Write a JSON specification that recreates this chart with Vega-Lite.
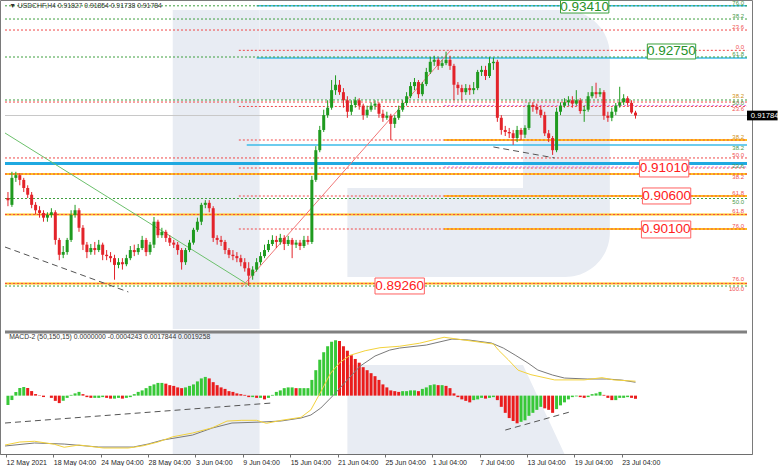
{
"$schema":"https://vega.github.io/schema/vega-lite/v6.json",
"width":752,"height":454,
"autosize":{"type":"none"},
"padding":{"left":0,"top":0,"right":30,"bottom":12},
"background":"#ffffff",
"datasets":{
"cdl":[
{"k":0,"o":0.9056,"h":0.9065,"l":0.9044,"c":0.9053},{"k":1,"o":0.9046,"h":0.9095,"l":0.9043,"c":0.9086},{"k":2,"o":0.9086,"h":0.9095,"l":0.9080,"c":0.9090},{"k":3,"o":0.9090,"h":0.9093,"l":0.9075,"c":0.9083},{"k":4,"o":0.9083,"h":0.9086,"l":0.9065,"c":0.9071},{"k":5,"o":0.9071,"h":0.9075,"l":0.9056,"c":0.9061},{"k":6,"o":0.9061,"h":0.9065,"l":0.9041,"c":0.9046},{"k":7,"o":0.9046,"h":0.9050,"l":0.9032,"c":0.9038},{"k":8,"o":0.9038,"h":0.9044,"l":0.9027,"c":0.9034},{"k":9,"o":0.9034,"h":0.9038,"l":0.9021,"c":0.9027},
{"k":10,"o":0.9027,"h":0.9035,"l":0.9021,"c":0.9031},{"k":11,"o":0.9031,"h":0.9041,"l":0.9027,"c":0.9035},{"k":12,"o":0.9035,"h":0.9038,"l":0.8987,"c":0.8994},{"k":13,"o":0.8994,"h":0.8997,"l":0.8964,"c":0.8972},{"k":14,"o":0.8972,"h":0.8985,"l":0.8967,"c":0.8976},{"k":15,"o":0.8976,"h":0.8997,"l":0.8972,"c":0.8994},{"k":16,"o":0.8994,"h":0.9038,"l":0.8991,"c":0.9031},{"k":17,"o":0.9031,"h":0.9046,"l":0.9027,"c":0.9038},{"k":18,"o":0.9038,"h":0.9041,"l":0.9006,"c":0.9012},{"k":19,"o":0.9012,"h":0.9016,"l":0.8979,"c":0.8987},
{"k":20,"o":0.8987,"h":0.8991,"l":0.8967,"c":0.8976},{"k":21,"o":0.8976,"h":0.8988,"l":0.8972,"c":0.8982},{"k":22,"o":0.8982,"h":0.8991,"l":0.8972,"c":0.8979},{"k":23,"o":0.8979,"h":0.8994,"l":0.8976,"c":0.8987},{"k":24,"o":0.8987,"h":0.8990,"l":0.8964,"c":0.8972},{"k":25,"o":0.8972,"h":0.8979,"l":0.8964,"c":0.8970},{"k":26,"o":0.8970,"h":0.8976,"l":0.8961,"c":0.8967},{"k":27,"o":0.8967,"h":0.8972,"l":0.8935,"c":0.8957},{"k":28,"o":0.8957,"h":0.8967,"l":0.8952,"c":0.8961},{"k":29,"o":0.8961,"h":0.8967,"l":0.8950,"c":0.8958},
{"k":30,"o":0.8958,"h":0.8972,"l":0.8955,"c":0.8967},{"k":31,"o":0.8967,"h":0.8985,"l":0.8964,"c":0.8979},{"k":32,"o":0.8979,"h":0.8987,"l":0.8970,"c":0.8976},{"k":33,"o":0.8976,"h":0.8988,"l":0.8972,"c":0.8982},{"k":34,"o":0.8982,"h":0.9000,"l":0.8979,"c":0.8994},{"k":35,"o":0.8994,"h":0.8997,"l":0.8970,"c":0.8976},{"k":36,"o":0.8976,"h":0.8991,"l":0.8972,"c":0.8987},{"k":37,"o":0.8987,"h":0.9028,"l":0.8982,"c":0.9021},{"k":38,"o":0.9021,"h":0.9024,"l":0.8997,"c":0.9001},{"k":39,"o":0.9001,"h":0.9012,"l":0.8997,"c":0.9006},
{"k":40,"o":0.9006,"h":0.9009,"l":0.8991,"c":0.8997},{"k":41,"o":0.8997,"h":0.9001,"l":0.8985,"c":0.8990},{"k":42,"o":0.8990,"h":0.8994,"l":0.8982,"c":0.8987},{"k":43,"o":0.8987,"h":0.8991,"l":0.8972,"c":0.8979},{"k":44,"o":0.8979,"h":0.8982,"l":0.8950,"c":0.8961},{"k":45,"o":0.8961,"h":0.8982,"l":0.8957,"c":0.8979},{"k":46,"o":0.8979,"h":0.8994,"l":0.8976,"c":0.8990},{"k":47,"o":0.8990,"h":0.9012,"l":0.8987,"c":0.9009},{"k":48,"o":0.9009,"h":0.9027,"l":0.9006,"c":0.9021},{"k":49,"o":0.9021,"h":0.9049,"l":0.9016,"c":0.9046},
{"k":50,"o":0.9046,"h":0.9053,"l":0.9041,"c":0.9049},{"k":51,"o":0.9049,"h":0.9053,"l":0.9035,"c":0.9041},{"k":52,"o":0.9041,"h":0.9044,"l":0.8991,"c":0.8997},{"k":53,"o":0.8997,"h":0.9001,"l":0.8987,"c":0.8994},{"k":54,"o":0.8994,"h":0.9000,"l":0.8985,"c":0.8991},{"k":55,"o":0.8991,"h":0.8994,"l":0.8973,"c":0.8979},{"k":56,"o":0.8979,"h":0.8982,"l":0.8967,"c":0.8972},{"k":57,"o":0.8972,"h":0.8979,"l":0.8964,"c":0.8970},{"k":58,"o":0.8970,"h":0.8976,"l":0.8961,"c":0.8967},{"k":59,"o":0.8967,"h":0.8972,"l":0.8955,"c":0.8961},
{"k":60,"o":0.8961,"h":0.8967,"l":0.8947,"c":0.8952},{"k":61,"o":0.8952,"h":0.8961,"l":0.8926,"c":0.8941},{"k":62,"o":0.8941,"h":0.8955,"l":0.8935,"c":0.8950},{"k":63,"o":0.8950,"h":0.8967,"l":0.8947,"c":0.8961},{"k":64,"o":0.8961,"h":0.8976,"l":0.8957,"c":0.8970},{"k":65,"o":0.8970,"h":0.8987,"l":0.8967,"c":0.8979},{"k":66,"o":0.8979,"h":0.8994,"l":0.8976,"c":0.8988},{"k":67,"o":0.8988,"h":0.9001,"l":0.8985,"c":0.8994},{"k":68,"o":0.8994,"h":0.9000,"l":0.8982,"c":0.8991},{"k":69,"o":0.8991,"h":0.9003,"l":0.8987,"c":0.8997},
{"k":70,"o":0.8997,"h":0.9001,"l":0.8979,"c":0.8988},{"k":71,"o":0.8988,"h":0.9000,"l":0.8985,"c":0.8994},{"k":72,"o":0.8994,"h":0.8997,"l":0.8967,"c":0.8987},{"k":73,"o":0.8987,"h":0.8994,"l":0.8982,"c":0.8990},{"k":74,"o":0.8990,"h":0.8994,"l":0.8979,"c":0.8985},{"k":75,"o":0.8985,"h":0.9000,"l":0.8982,"c":0.8994},{"k":76,"o":0.8994,"h":0.9000,"l":0.8987,"c":0.8991},{"k":77,"o":0.8991,"h":0.9089,"l":0.8988,"c":0.9083},{"k":78,"o":0.9083,"h":0.9133,"l":0.9080,"c":0.9127},{"k":79,"o":0.9127,"h":0.9163,"l":0.9124,"c":0.9157},
{"k":80,"o":0.9157,"h":0.9187,"l":0.9154,"c":0.9179},{"k":81,"o":0.9179,"h":0.9201,"l":0.9175,"c":0.9190},{"k":82,"o":0.9190,"h":0.9231,"l":0.9187,"c":0.9216},{"k":83,"o":0.9216,"h":0.9238,"l":0.9209,"c":0.9224},{"k":84,"o":0.9224,"h":0.9231,"l":0.9209,"c":0.9213},{"k":85,"o":0.9213,"h":0.9219,"l":0.9190,"c":0.9201},{"k":86,"o":0.9201,"h":0.9207,"l":0.9175,"c":0.9184},{"k":87,"o":0.9184,"h":0.9201,"l":0.9179,"c":0.9194},{"k":88,"o":0.9194,"h":0.9206,"l":0.9190,"c":0.9201},{"k":89,"o":0.9201,"h":0.9204,"l":0.9187,"c":0.9193},
{"k":90,"o":0.9193,"h":0.9196,"l":0.9172,"c":0.9179},{"k":91,"o":0.9179,"h":0.9193,"l":0.9175,"c":0.9187},{"k":92,"o":0.9187,"h":0.9198,"l":0.9184,"c":0.9193},{"k":93,"o":0.9193,"h":0.9201,"l":0.9187,"c":0.9196},{"k":94,"o":0.9196,"h":0.9198,"l":0.9175,"c":0.9181},{"k":95,"o":0.9181,"h":0.9187,"l":0.9169,"c":0.9175},{"k":96,"o":0.9175,"h":0.9184,"l":0.9172,"c":0.9178},{"k":97,"o":0.9178,"h":0.9181,"l":0.9142,"c":0.9166},{"k":98,"o":0.9166,"h":0.9179,"l":0.9160,"c":0.9175},{"k":99,"o":0.9175,"h":0.9193,"l":0.9172,"c":0.9187},
{"k":100,"o":0.9187,"h":0.9201,"l":0.9184,"c":0.9197},{"k":101,"o":0.9197,"h":0.9213,"l":0.9193,"c":0.9207},{"k":102,"o":0.9207,"h":0.9228,"l":0.9204,"c":0.9222},{"k":103,"o":0.9222,"h":0.9234,"l":0.9216,"c":0.9228},{"k":104,"o":0.9228,"h":0.9231,"l":0.9204,"c":0.9210},{"k":105,"o":0.9210,"h":0.9228,"l":0.9207,"c":0.9225},{"k":106,"o":0.9225,"h":0.9249,"l":0.9222,"c":0.9243},{"k":107,"o":0.9243,"h":0.9265,"l":0.9240,"c":0.9258},{"k":108,"o":0.9258,"h":0.9267,"l":0.9252,"c":0.9261},{"k":109,"o":0.9261,"h":0.9264,"l":0.9246,"c":0.9252},
{"k":110,"o":0.9252,"h":0.9261,"l":0.9249,"c":0.9256},{"k":111,"o":0.9256,"h":0.9273,"l":0.9253,"c":0.9261},{"k":112,"o":0.9261,"h":0.9267,"l":0.9246,"c":0.9252},{"k":113,"o":0.9252,"h":0.9255,"l":0.9201,"c":0.9224},{"k":114,"o":0.9224,"h":0.9228,"l":0.9209,"c":0.9219},{"k":115,"o":0.9219,"h":0.9224,"l":0.9201,"c":0.9213},{"k":116,"o":0.9213,"h":0.9225,"l":0.9209,"c":0.9219},{"k":117,"o":0.9219,"h":0.9224,"l":0.9209,"c":0.9216},{"k":118,"o":0.9216,"h":0.9228,"l":0.9210,"c":0.9219},{"k":119,"o":0.9219,"h":0.9246,"l":0.9216,"c":0.9243},
{"k":120,"o":0.9243,"h":0.9252,"l":0.9237,"c":0.9246},{"k":121,"o":0.9246,"h":0.9252,"l":0.9231,"c":0.9237},{"k":122,"o":0.9237,"h":0.9265,"l":0.9234,"c":0.9256},{"k":123,"o":0.9256,"h":0.9264,"l":0.9246,"c":0.9258},{"k":124,"o":0.9258,"h":0.9261,"l":0.9169,"c":0.9175},{"k":125,"o":0.9175,"h":0.9179,"l":0.9150,"c":0.9157},{"k":126,"o":0.9157,"h":0.9163,"l":0.9148,"c":0.9154},{"k":127,"o":0.9154,"h":0.9160,"l":0.9145,"c":0.9152},{"k":128,"o":0.9152,"h":0.9157,"l":0.9135,"c":0.9145},{"k":129,"o":0.9145,"h":0.9163,"l":0.9139,"c":0.9157},
{"k":130,"o":0.9157,"h":0.9160,"l":0.9142,"c":0.9150},{"k":131,"o":0.9150,"h":0.9164,"l":0.9145,"c":0.9160},{"k":132,"o":0.9160,"h":0.9198,"l":0.9157,"c":0.9194},{"k":133,"o":0.9194,"h":0.9198,"l":0.9184,"c":0.9191},{"k":134,"o":0.9191,"h":0.9196,"l":0.9181,"c":0.9187},{"k":135,"o":0.9187,"h":0.9193,"l":0.9175,"c":0.9179},{"k":136,"o":0.9179,"h":0.9184,"l":0.9148,"c":0.9152},{"k":137,"o":0.9152,"h":0.9157,"l":0.9139,"c":0.9145},{"k":138,"o":0.9145,"h":0.9148,"l":0.9120,"c":0.9127},{"k":139,"o":0.9127,"h":0.9190,"l":0.9124,"c":0.9184},
{"k":140,"o":0.9184,"h":0.9198,"l":0.9179,"c":0.9193},{"k":141,"o":0.9193,"h":0.9204,"l":0.9190,"c":0.9198},{"k":142,"o":0.9198,"h":0.9207,"l":0.9193,"c":0.9201},{"k":143,"o":0.9201,"h":0.9207,"l":0.9190,"c":0.9196},{"k":144,"o":0.9196,"h":0.9216,"l":0.9193,"c":0.9201},{"k":145,"o":0.9201,"h":0.9204,"l":0.9181,"c":0.9185},{"k":146,"o":0.9185,"h":0.9193,"l":0.9169,"c":0.9187},{"k":147,"o":0.9187,"h":0.9213,"l":0.9184,"c":0.9207},{"k":148,"o":0.9207,"h":0.9222,"l":0.9204,"c":0.9213},{"k":149,"o":0.9213,"h":0.9227,"l":0.9204,"c":0.9210},
{"k":150,"o":0.9210,"h":0.9219,"l":0.9206,"c":0.9213},{"k":151,"o":0.9213,"h":0.9216,"l":0.9172,"c":0.9178},{"k":152,"o":0.9178,"h":0.9184,"l":0.9169,"c":0.9175},{"k":153,"o":0.9175,"h":0.9190,"l":0.9170,"c":0.9184},{"k":154,"o":0.9184,"h":0.9197,"l":0.9179,"c":0.9193},{"k":155,"o":0.9193,"h":0.9221,"l":0.9190,"c":0.9198},{"k":156,"o":0.9198,"h":0.9210,"l":0.9194,"c":0.9204},{"k":157,"o":0.9204,"h":0.9207,"l":0.9193,"c":0.9197},{"k":158,"o":0.9197,"h":0.9201,"l":0.9181,"c":0.9183},{"k":159,"o":0.91827,"h":0.91854,"l":0.91738,"c":0.91784}
],
"hist":[
{"k":0,"h":-0.00126},{"k":1,"h":-0.00059},{"k":2,"h":0.00048},{"k":3,"h":0.00102},{"k":4,"h":0.00115},{"k":5,"h":0.00102},{"k":6,"h":0.00061},{"k":7,"h":0.00021},{"k":8,"h":-0.00005},{"k":9,"h":-0.00019},
{"k":10,"h":0.0},{"k":11,"h":-0.0003},{"k":12,"h":-0.0007},{"k":13,"h":-0.001},{"k":14,"h":-0.0007},{"k":15,"h":-0.0003},{"k":16,"h":0.0001},{"k":17,"h":0.0003},{"k":18,"h":0.0005},{"k":19,"h":0.0002},
{"k":20,"h":-0.0002},{"k":21,"h":-0.0003},{"k":22,"h":-0.0003},{"k":23,"h":-0.0003},{"k":24,"h":-0.0002},{"k":25,"h":-0.0003},{"k":26,"h":-0.0004},{"k":27,"h":-0.0004},{"k":28,"h":-0.0003},{"k":29,"h":-0.0004},
{"k":30,"h":-0.0003},{"k":31,"h":-0.0002},{"k":32,"h":0.0002},{"k":33,"h":0.0005},{"k":34,"h":0.0007},{"k":35,"h":0.001},{"k":36,"h":0.0013},{"k":37,"h":0.0015},{"k":38,"h":0.0017},{"k":39,"h":0.0017},
{"k":40,"h":0.0016},{"k":41,"h":0.0014},{"k":42,"h":0.0013},{"k":43,"h":0.0011},{"k":44,"h":0.001},{"k":45,"h":0.0011},{"k":46,"h":0.0013},{"k":47,"h":0.0015},{"k":48,"h":0.0019},{"k":49,"h":0.0023},
{"k":50,"h":0.0025},{"k":51,"h":0.0023},{"k":52,"h":0.0018},{"k":53,"h":0.0014},{"k":54,"h":0.0011},{"k":55,"h":0.0009},{"k":56,"h":0.0006},{"k":57,"h":0.0005},{"k":58,"h":0.0003},{"k":59,"h":0.0002},
{"k":60,"h":0.0001},{"k":61,"h":-0.0002},{"k":62,"h":-0.0002},{"k":63,"h":-0.0003},{"k":64,"h":-0.0003},{"k":65,"h":-0.0005},{"k":66,"h":-0.0003},{"k":67,"h":0.0001},{"k":68,"h":0.0005},{"k":69,"h":0.0007},
{"k":70,"h":0.001},{"k":71,"h":0.0011},{"k":72,"h":0.0011},{"k":73,"h":0.001},{"k":74,"h":0.001},{"k":75,"h":0.001},{"k":76,"h":0.001},{"k":77,"h":0.0021},{"k":78,"h":0.0034},{"k":79,"h":0.0048},
{"k":80,"h":0.0058},{"k":81,"h":0.0066},{"k":82,"h":0.0072},{"k":83,"h":0.0074},{"k":84,"h":0.0073},{"k":85,"h":0.0066},{"k":86,"h":0.006},{"k":87,"h":0.0054},{"k":88,"h":0.0049},{"k":89,"h":0.0044},
{"k":90,"h":0.0038},{"k":91,"h":0.0034},{"k":92,"h":0.003},{"k":93,"h":0.0026},{"k":94,"h":0.0021},{"k":95,"h":0.0015},{"k":96,"h":0.0011},{"k":97,"h":0.0007},{"k":98,"h":0.0006},{"k":99,"h":0.0005},
{"k":100,"h":0.0006},{"k":101,"h":0.0006},{"k":102,"h":0.0007},{"k":103,"h":0.0007},{"k":104,"h":0.0006},{"k":105,"h":0.0009},{"k":106,"h":0.0011},{"k":107,"h":0.0014},{"k":108,"h":0.0015},{"k":109,"h":0.0014},
{"k":110,"h":0.0014},{"k":111,"h":0.0013},{"k":112,"h":0.001},{"k":113,"h":0.0003},{"k":114,"h":-0.0002},{"k":115,"h":-0.0005},{"k":116,"h":-0.0007},{"k":117,"h":-0.0009},{"k":118,"h":-0.0006},{"k":119,"h":-0.0005},
{"k":120,"h":-0.0003},{"k":121,"h":-0.0004},{"k":122,"h":-0.0003},{"k":123,"h":-0.0002},{"k":124,"h":-0.0006},{"k":125,"h":-0.0015},{"k":126,"h":-0.0023},{"k":127,"h":-0.003},{"k":128,"h":-0.0034},{"k":129,"h":-0.0037},
{"k":130,"h":-0.0035},{"k":131,"h":-0.0033},{"k":132,"h":-0.0027},{"k":133,"h":-0.0023},{"k":134,"h":-0.0019},{"k":135,"h":-0.0015},{"k":136,"h":-0.0017},{"k":137,"h":-0.0019},{"k":138,"h":-0.0023},{"k":139,"h":-0.0018},
{"k":140,"h":-0.0013},{"k":141,"h":-0.0009},{"k":142,"h":-0.0005},{"k":143,"h":-0.0002},{"k":144,"h":-0.0001},{"k":145,"h":-0.0002},{"k":146,"h":-0.0003},{"k":147,"h":-0.0002},{"k":148,"h":0.0002},{"k":149,"h":0.0003},
{"k":150,"h":0.0005},{"k":151,"h":0.0001},{"k":152,"h":-0.0003},{"k":153,"h":-0.0006},{"k":154,"h":-0.0006},{"k":155,"h":-0.0003},{"k":156,"h":-0.0003},{"k":157,"h":-0.0002},{"k":158,"h":-0.0003},{"k":159,"h":-0.0004243}
],
"macd":[
{"k":-0.75,"m":-0.00673},{"k":6.75,"m":-0.00633},{"k":14.25,"m":-0.00647},{"k":23,"m":-0.00687},{"k":31.75,"m":-0.00687},{"k":35.5,"m":-0.00647},{"k":39.25,"m":-0.00593},{"k":46.75,"m":-0.00527},{"k":51.75,"m":-0.00433},{"k":56.75,"m":-0.00366},{"k":64.25,"m":-0.00353},{"k":69.25,"m":-0.00339},{"k":74.25,"m":-0.00299},{"k":76.75,"m":-0.00259},{"k":79.25,"m":-0.00166},{"k":82.5,"m":0.00008},{"k":85.5,"m":0.00182},{"k":89.25,"m":0.00395},{"k":93,"m":0.00529},{"k":96.75,"m":0.00609},{"k":99.25,"m":0.00636},{"k":106,"m":0.00676},{"k":112.5,"m":0.00756},{"k":116.75,"m":0.00743},{"k":122.5,"m":0.00703},{"k":125.5,"m":0.00636},{"k":128.5,"m":0.00542},{"k":131.75,"m":0.00436},{"k":134.25,"m":0.00342},{"k":138,"m":0.00275},{"k":141,"m":0.00235},{"k":146.75,"m":0.00222},{"k":151.75,"m":0.00222},{"k":155.5,"m":0.00208},{"k":159,"m":0.0017844}
],
"sig":[
{"k":-0.75,"s":-0.0066},{"k":3,"s":-0.0062},{"k":6.75,"s":-0.0061},{"k":11.75,"s":-0.0065},{"k":14.25,"s":-0.0069},{"k":18,"s":-0.0066},{"k":24.25,"s":-0.0070},{"k":30.5,"s":-0.0070},{"k":34.25,"s":-0.0067},{"k":38,"s":-0.0062},{"k":41.75,"s":-0.0055},{"k":46.75,"s":-0.0050},{"k":51.75,"s":-0.0043},{"k":55.5,"s":-0.0034},{"k":59.25,"s":-0.0033},{"k":63,"s":-0.0033},{"k":65.5,"s":-0.0037},{"k":69.25,"s":-0.0033},{"k":74.25,"s":-0.0029},{"k":76.75,"s":-0.0019},{"k":79.25,"s":0.0005},{"k":81.75,"s":0.0030},{"k":84.25,"s":0.0045},{"k":86.75,"s":0.0054},{"k":90.5,"s":0.0060},{"k":94.25,"s":0.0064},{"k":99.25,"s":0.0066},{"k":104.25,"s":0.0070},{"k":110.5,"s":0.0078},{"k":116,"s":0.0074},{"k":123,"s":0.0069},{"k":124.25,"s":0.0061},{"k":126.75,"s":0.0048},{"k":129.25,"s":0.0034},{"k":132.5,"s":0.0028},{"k":138.5,"s":0.0021},{"k":146,"s":0.0021},{"k":150.5,"s":0.0024},{"k":153.5,"s":0.0021},{"k":159,"s":0.0019258}
],
"wmA":[{"k":41.75,"k2":63.75,"p":0.93348,"p2":0.8862},{"k":130.5,"k2":152.5,"p":0.92014,"p2":0.9071}],
"wmB":[{"k":63.75,"k2":152.5,"p":0.93348,"p2":0.92014}],
"wmC":[{"k":86,"k2":152.5,"p":0.9071,"p2":0.89391}],
"wmM":[{"k":41.75,"k2":63.75,"m":0.0085025,"m2":-0.0078}],
"wmL":[{"k":86,"m":0.00409,"m2":-0.0078},{"k":130.5,"m":0.00409,"m2":-0.0078},{"k":141,"m":-0.0078,"m2":-0.0078}],
"lvG":[{"k":-0.75,"k2":187.25,"p":0.9341},{"k":-0.75,"k2":187.25,"p":0.93214},{"k":-0.75,"k2":187.25,"p":0.92651},{"k":-0.75,"k2":187.25,"p":0.92014},{"k":-0.75,"k2":187.25,"p":0.90554},{"k":-0.75,"k2":187.25,"p":0.89257}],
"lvR":[{"k":-0.75,"k2":187.25,"p":0.93051},{"k":58.5,"k2":187.25,"p":0.9275},{"k":-0.75,"k2":187.25,"p":0.91984},{"k":58.5,"k2":187.25,"p":0.91918},{"k":58.5,"k2":187.25,"p":0.91421},{"k":-0.75,"k2":187.25,"p":0.91155},{"k":58.5,"k2":187.25,"p":0.91006},{"k":-0.75,"k2":187.25,"p":0.90917},{"k":58.5,"k2":187.25,"p":0.90591},{"k":-0.75,"k2":187.25,"p":0.90317},{"k":58.5,"k2":187.25,"p":0.90102},{"k":-0.75,"k2":187.25,"p":0.89295}],
"lvO":[{"k":-0.75,"k2":187.25,"p":0.90917},{"k":-0.75,"k2":187.25,"p":0.90317},{"k":-0.75,"k2":187.25,"p":0.89295},{"k":110.5,"k2":187.25,"p":0.91421},{"k":110.5,"k2":187.25,"p":0.90591},{"k":110.5,"k2":187.25,"p":0.90102}],
"lvCt":[{"k":-0.75,"k2":187.25,"p":0.91073}],
"lvC":[{"k":63,"k2":187.25,"p":0.9341},{"k":63,"k2":187.25,"p":0.92636},{"k":60.5,"k2":187.25,"p":0.91347}],
"lvP":[{"k":110.5,"k2":187.25,"p":0.91933},{"k":110.5,"k2":187.25,"p":0.91021}],
"lvGr":[{"k":-0.75,"k2":187.25,"p":0.91784}],
"trG":[{"k":-0.75,"p":0.91525},{"k":61,"p":0.89272}],
"trR":[{"k":59.25,"p":0.89243},{"k":112.25,"p":0.92755}],
"trD":[{"k":-0.75,"p":0.89835,"g":1},{"k":30.5,"p":0.89169,"g":1},{"k":123,"p":0.91318,"g":2},{"k":138.5,"p":0.91155,"g":2}],
"mD":[{"k":-0.75,"m":-0.00366,"g":1},{"k":66.75,"m":-0.00099,"g":1},{"k":126,"m":-0.0046,"g":2},{"k":142.25,"m":-0.0022,"g":2}],
"sep":[{"k":-0.75,"k2":187.25,"m":0.0085025}],
"fbRb":[{"k":186.5,"p":0.93051,"t":"23.6"},{"k":186.5,"p":0.9275,"t":"0.0"},{"k":186.5,"p":0.91155,"t":"50.0"},{"k":186.5,"p":0.90591,"t":"61.8"},{"k":186.5,"p":0.90317,"t":"61.8"},{"k":186.5,"p":0.90102,"t":"76.0"},{"k":186.5,"p":0.8931,"t":"76.0"}],
"fbRt":[{"k":186.5,"p":0.91918,"t":"23.6"},{"k":186.5,"p":0.90917,"t":"38.2"},{"k":186.5,"p":0.89257,"t":"100.0"}],
"fbGb":[{"k":186.5,"p":0.9341,"t":"76.0"},{"k":186.5,"p":0.93214,"t":"38.2"},{"k":186.5,"p":0.92651,"t":"61.8"}],
"fbGt":[{"k":186.5,"p":0.92014,"t":"50.0"},{"k":186.5,"p":0.91347,"t":"38.2"},{"k":186.5,"p":0.91073,"t":"23.6"},{"k":186.5,"p":0.90554,"t":"50.0"}],
"fbO":[{"k":186.5,"p":0.9203,"t":"38.2"},{"k":186.5,"p":0.91421,"t":"38.2"}],
"bxG":[{"k":140,"k2":152.25,"p":0.9349,"p2":0.93303},{"k":162,"k2":174.25,"p":0.92844,"p2":0.92622}],
"bxGt":[{"k":146.1,"p":0.93398,"t":"0.93410"},{"k":168.1,"p":0.92733,"t":"0.92750"}],
"bxR":[{"k":160,"k2":172.5,"p":0.91125,"p2":0.90873},{"k":160.75,"k2":173,"p":0.9071,"p2":0.90473},{"k":160.5,"k2":173,"p":0.90221,"p2":0.89969},{"k":93,"k2":105.5,"p":0.89376,"p2":0.89139}],
"bxRt":[{"k":166.25,"p":0.90999,"t":"0.91010"},{"k":166.9,"p":0.90592,"t":"0.90600"},{"k":166.75,"p":0.90095,"t":"0.90100"},{"k":99.25,"p":0.89257,"t":"0.89260"}],
"tag":[{"k":187.25,"k2":195,"p":0.91856,"p2":0.91712}],
"tagt":[{"k":188.2,"p":0.91784,"t":"0.91784"}],
"tP":[{"k":0.3,"p":0.93405,"t":"▼ USDCHF,H4  0.91827 0.91854 0.91738 0.91784"}],
"tM":[{"k":0.3,"m":0.0078,"t":"MACD-2 (50,150,15) 0.0000000 -0.0004243 0.0017844 0.0019258"}]
},
"encoding":{
"x":{"field":"k","type":"quantitative","scale":{"domain":[-0.75,187.25],"nice":false,"zero":false},
"axis":{"orient":"bottom","title":null,"grid":false,"values":[-0.5,11.5,23.5,35.5,47.5,59.5,71.5,83.5,95.5,107.5,119.5,131.5,143.5,155.5],
"labelExpr":"['12 May 2021','18 May 04:00','24 May 04:00','28 May 04:00','3 Jun 04:00','9 Jun 04:00','15 Jun 04:00','21 Jun 04:00','25 Jun 04:00','1 Jul 04:00','7 Jul 04:00','13 Jul 04:00','19 Jul 04:00','23 Jul 04:00'][round((datum.value+0.5)/12)]",
"labelAlign":"left","labelFontSize":7,"labelPadding":1,"tickSize":3,"labelOverlap":false,"labelFlush":false}}
},
"layer":[
{"layer":[
{"data":{"name":"wmA"},"mark":{"type":"rect","color":"#e8ecf3"},"encoding":{"x2":{"field":"k2"},"y":{"field":"p","type":"quantitative","scale":{"domain":[0.8862,0.93496],"range":[329,0],"zero":false,"nice":false},"axis":null},"y2":{"field":"p2"}}},
{"data":{"name":"wmB"},"mark":{"type":"rect","color":"#e8ecf3","cornerRadiusTopRight":80},"encoding":{"x2":{"field":"k2"},"y":{"field":"p","type":"quantitative","scale":{"domain":[0.8862,0.93496],"range":[329,0],"zero":false,"nice":false},"axis":null},"y2":{"field":"p2"}}},
{"data":{"name":"wmC"},"mark":{"type":"rect","color":"#e8ecf3","cornerRadiusBottomRight":80},"encoding":{"x2":{"field":"k2"},"y":{"field":"p","type":"quantitative","scale":{"domain":[0.8862,0.93496],"range":[329,0],"zero":false,"nice":false},"axis":null},"y2":{"field":"p2"}}},
{"data":{"name":"lvGr"},"mark":{"type":"rule","color":"#c8c8c8","strokeWidth":1},"encoding":{"x2":{"field":"k2"},"y":{"field":"p","type":"quantitative","scale":{"domain":[0.8862,0.93496],"range":[329,0],"zero":false,"nice":false},"axis":null}}},
{"data":{"name":"lvO"},"mark":{"type":"rule","color":"#ffc21f","strokeWidth":2},"encoding":{"x2":{"field":"k2"},"y":{"field":"p","type":"quantitative","scale":{"domain":[0.8862,0.93496],"range":[329,0],"zero":false,"nice":false},"axis":null}}},
{"data":{"name":"lvCt"},"mark":{"type":"rule","color":"#1fa9e1","strokeWidth":3},"encoding":{"x2":{"field":"k2"},"y":{"field":"p","type":"quantitative","scale":{"domain":[0.8862,0.93496],"range":[329,0],"zero":false,"nice":false},"axis":null}}},
{"data":{"name":"lvC"},"mark":{"type":"rule","color":"#3dbbe8","strokeWidth":1.5},"encoding":{"x2":{"field":"k2"},"y":{"field":"p","type":"quantitative","scale":{"domain":[0.8862,0.93496],"range":[329,0],"zero":false,"nice":false},"axis":null}}},
{"data":{"name":"lvG"},"mark":{"type":"rule","color":"#3f9f3f","strokeWidth":1,"strokeDash":[2,2]},"encoding":{"x2":{"field":"k2"},"y":{"field":"p","type":"quantitative","scale":{"domain":[0.8862,0.93496],"range":[329,0],"zero":false,"nice":false},"axis":null}}},
{"data":{"name":"lvR"},"mark":{"type":"rule","color":"#f04848","strokeWidth":1,"strokeDash":[2,2]},"encoding":{"x2":{"field":"k2"},"y":{"field":"p","type":"quantitative","scale":{"domain":[0.8862,0.93496],"range":[329,0],"zero":false,"nice":false},"axis":null}}},
{"data":{"name":"lvP"},"mark":{"type":"rule","color":"#e07ae0","strokeWidth":1,"strokeDash":[2,2]},"encoding":{"x2":{"field":"k2"},"y":{"field":"p","type":"quantitative","scale":{"domain":[0.8862,0.93496],"range":[329,0],"zero":false,"nice":false},"axis":null}}},
{"data":{"name":"trG"},"mark":{"type":"line","color":"#6cc06c","strokeWidth":1},"encoding":{"y":{"field":"p","type":"quantitative","scale":{"domain":[0.8862,0.93496],"range":[329,0],"zero":false,"nice":false},"axis":null}}},
{"data":{"name":"trR"},"mark":{"type":"line","color":"#f07878","strokeWidth":1},"encoding":{"y":{"field":"p","type":"quantitative","scale":{"domain":[0.8862,0.93496],"range":[329,0],"zero":false,"nice":false},"axis":null}}},
{"data":{"name":"trD"},"mark":{"type":"line","color":"#555555","strokeWidth":1,"strokeDash":[6,4]},"encoding":{"detail":{"field":"g"},"y":{"field":"p","type":"quantitative","scale":{"domain":[0.8862,0.93496],"range":[329,0],"zero":false,"nice":false},"axis":null}}},
{"data":{"name":"cdl"},"mark":{"type":"rule","strokeWidth":1},"encoding":{
"y":{"field":"l","type":"quantitative","scale":{"domain":[0.8862,0.93496],"range":[329,0],"zero":false,"nice":false},
"axis":{"orient":"right","title":null,"grid":false,"values":[0.9347,0.93105,0.9274,0.9238,0.92015,0.9165,0.9129,0.90925,0.9056,0.902,0.89835,0.8947,0.8911,0.88745],"format":".5f","labelFontSize":7.7,"tickSize":3,"labelPadding":2,"labelOverlap":false,"labelFlush":false}},
"y2":{"field":"h"},
"color":{"condition":{"test":"datum.c >= datum.o","value":"#1f9a1f"},"value":"#e3232a"}}},
{"data":{"name":"cdl"},"mark":{"type":"bar","width":3},"encoding":{
"y":{"field":"o","type":"quantitative","scale":{"domain":[0.8862,0.93496],"range":[329,0],"zero":false,"nice":false},"axis":null},
"y2":{"field":"c"},
"color":{"condition":{"test":"datum.c >= datum.o","value":"#1f9a1f"},"value":"#e3232a"}}},
{"data":{"name":"bxG"},"mark":{"type":"rect","fill":"#ffffff","stroke":"#3aa03a","strokeWidth":1},"encoding":{"x2":{"field":"k2"},"y":{"field":"p","type":"quantitative","scale":{"domain":[0.8862,0.93496],"range":[329,0],"zero":false,"nice":false},"axis":null},"y2":{"field":"p2"}}},
{"data":{"name":"bxR"},"mark":{"type":"rect","fill":"#ffffff","stroke":"#ff6060","strokeWidth":1},"encoding":{"x2":{"field":"k2"},"y":{"field":"p","type":"quantitative","scale":{"domain":[0.8862,0.93496],"range":[329,0],"zero":false,"nice":false},"axis":null},"y2":{"field":"p2"}}},
{"data":{"name":"bxGt"},"mark":{"type":"text","font":"Liberation Sans","fontSize":13.5,"color":"#27922a","align":"center","baseline":"middle"},"encoding":{"text":{"field":"t"},"y":{"field":"p","type":"quantitative","scale":{"domain":[0.8862,0.93496],"range":[329,0],"zero":false,"nice":false},"axis":null}}},
{"data":{"name":"bxRt"},"mark":{"type":"text","font":"Liberation Sans","fontSize":13.5,"color":"#ff2020","align":"center","baseline":"middle"},"encoding":{"text":{"field":"t"},"y":{"field":"p","type":"quantitative","scale":{"domain":[0.8862,0.93496],"range":[329,0],"zero":false,"nice":false},"axis":null}}},
{"data":{"name":"fbRb"},"mark":{"type":"text","font":"Liberation Sans","fontSize":6,"color":"#f05050","align":"right","baseline":"bottom"},"encoding":{"text":{"field":"t"},"y":{"field":"p","type":"quantitative","scale":{"domain":[0.8862,0.93496],"range":[329,0],"zero":false,"nice":false},"axis":null}}},
{"data":{"name":"fbRt"},"mark":{"type":"text","font":"Liberation Sans","fontSize":6,"color":"#f05050","align":"right","baseline":"top"},"encoding":{"text":{"field":"t"},"y":{"field":"p","type":"quantitative","scale":{"domain":[0.8862,0.93496],"range":[329,0],"zero":false,"nice":false},"axis":null}}},
{"data":{"name":"fbGb"},"mark":{"type":"text","font":"Liberation Sans","fontSize":6,"color":"#4a9a4a","align":"right","baseline":"bottom"},"encoding":{"text":{"field":"t"},"y":{"field":"p","type":"quantitative","scale":{"domain":[0.8862,0.93496],"range":[329,0],"zero":false,"nice":false},"axis":null}}},
{"data":{"name":"fbGt"},"mark":{"type":"text","font":"Liberation Sans","fontSize":6,"color":"#4a9a4a","align":"right","baseline":"top"},"encoding":{"text":{"field":"t"},"y":{"field":"p","type":"quantitative","scale":{"domain":[0.8862,0.93496],"range":[329,0],"zero":false,"nice":false},"axis":null}}},
{"data":{"name":"fbO"},"mark":{"type":"text","font":"Liberation Sans","fontSize":6,"color":"#d09010","align":"right","baseline":"bottom"},"encoding":{"text":{"field":"t"},"y":{"field":"p","type":"quantitative","scale":{"domain":[0.8862,0.93496],"range":[329,0],"zero":false,"nice":false},"axis":null}}},
{"data":{"name":"tag"},"mark":{"type":"rect","color":"#000000"},"encoding":{"x2":{"field":"k2"},"y":{"field":"p","type":"quantitative","scale":{"domain":[0.8862,0.93496],"range":[329,0],"zero":false,"nice":false},"axis":null},"y2":{"field":"p2"}}},
{"data":{"name":"tagt"},"mark":{"type":"text","font":"Liberation Sans","fontSize":7.7,"color":"#ffffff","align":"left","baseline":"middle"},"encoding":{"text":{"field":"t"},"y":{"field":"p","type":"quantitative","scale":{"domain":[0.8862,0.93496],"range":[329,0],"zero":false,"nice":false},"axis":null}}},
{"data":{"name":"tP"},"mark":{"type":"text","font":"Liberation Sans","fontSize":6.8,"color":"#333333","align":"left","baseline":"middle"},"encoding":{"text":{"field":"t"},"y":{"field":"p","type":"quantitative","scale":{"domain":[0.8862,0.93496],"range":[329,0],"zero":false,"nice":false},"axis":null}}}
]},
{"layer":[
{"data":{"name":"wmM"},"mark":{"type":"rect","color":"#e8ecf3"},"encoding":{"x2":{"field":"k2"},"y":{"field":"m","type":"quantitative","scale":{"domain":[-0.0078,0.0085025],"range":[454,332],"zero":false,"nice":false},"axis":null},"y2":{"field":"m2"}}},
{"data":{"name":"wmL"},"mark":{"type":"area","color":"#e8ecf3","opacity":1},"encoding":{"y":{"field":"m","type":"quantitative","scale":{"domain":[-0.0078,0.0085025],"range":[454,332],"zero":false,"nice":false},"axis":null},"y2":{"field":"m2"}}},
{"data":{"name":"hist"},"transform":[{"window":[{"op":"lag","field":"h","as":"hp"}],"sort":[{"field":"k"}]}],
"mark":{"type":"bar","width":3},"encoding":{
"y":{"field":"h","type":"quantitative","scale":{"domain":[-0.0078,0.0085025],"range":[454,332],"zero":false,"nice":false},
"axis":{"orient":"right","title":null,"grid":false,"values":[0.0081,0,-0.006],"labelExpr":"datum.value > 0.005 ? '0.0085025' : (datum.value < -0.005 ? '-0.007800' : '0.00')","labelFontSize":7.7,"tickSize":3,"labelPadding":2,"labelOverlap":false,"labelFlush":false}},
"y2":{"datum":0},
"color":{"condition":{"test":"datum.hp == null || datum.h >= datum.hp","value":"#38c838"},"value":"#ea1c1c"}}},
{"data":{"name":"macd"},"mark":{"type":"line","color":"#7a7a7a","strokeWidth":1},"encoding":{"y":{"field":"m","type":"quantitative","scale":{"domain":[-0.0078,0.0085025],"range":[454,332],"zero":false,"nice":false},"axis":null}}},
{"data":{"name":"sig"},"mark":{"type":"line","color":"#f3d23c","strokeWidth":1},"encoding":{"y":{"field":"s","type":"quantitative","scale":{"domain":[-0.0078,0.0085025],"range":[454,332],"zero":false,"nice":false},"axis":null}}},
{"data":{"name":"mD"},"mark":{"type":"line","color":"#555555","strokeWidth":1,"strokeDash":[6,4]},"encoding":{"detail":{"field":"g"},"y":{"field":"m","type":"quantitative","scale":{"domain":[-0.0078,0.0085025],"range":[454,332],"zero":false,"nice":false},"axis":null}}},
{"data":{"name":"sep"},"mark":{"type":"rule","color":"#808080","strokeWidth":3},"encoding":{"x2":{"field":"k2"},"y":{"field":"m","type":"quantitative","scale":{"domain":[-0.0078,0.0085025],"range":[454,332],"zero":false,"nice":false},"axis":null}}},
{"data":{"name":"tM"},"mark":{"type":"text","font":"Liberation Sans","fontSize":6.8,"color":"#333333","align":"left","baseline":"middle"},"encoding":{"text":{"field":"t"},"y":{"field":"m","type":"quantitative","scale":{"domain":[-0.0078,0.0085025],"range":[454,332],"zero":false,"nice":false},"axis":null}}}
]}
],
"resolve":{"scale":{"y":"independent"},"axis":{"y":"independent"}},
"config":{
"view":{"stroke":"#7a7a7a"},
"axis":{"labelFont":"Liberation Sans","labelColor":"#1e1e1e","domainColor":"#6e6e6e","tickColor":"#6e6e6e","grid":false},
"text":{"font":"Liberation Sans"}
}
}
